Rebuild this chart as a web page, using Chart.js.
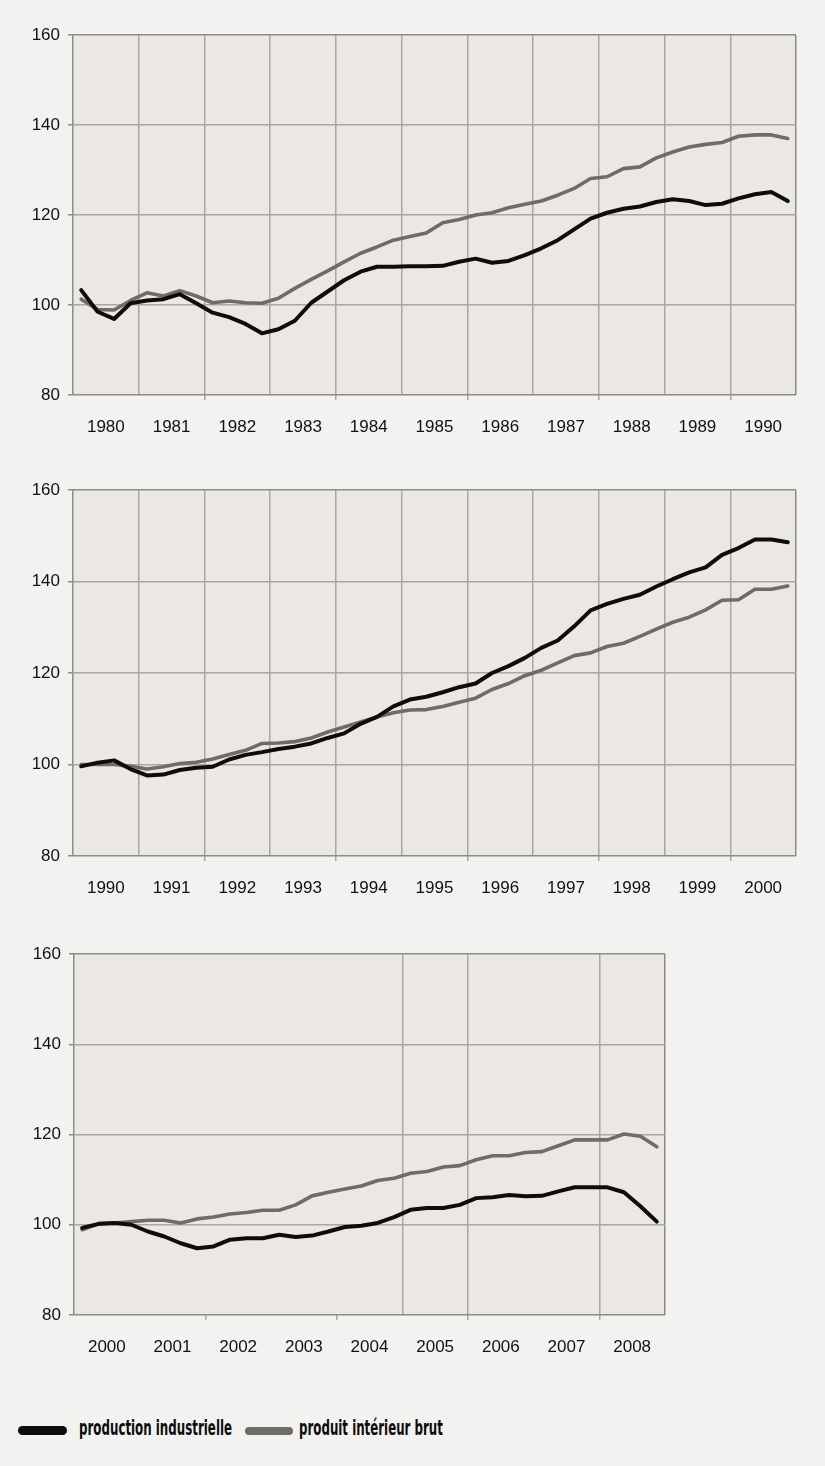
<!DOCTYPE html>
<html><head><meta charset="utf-8">
<script src="https://cdn.jsdelivr.net/npm/chart.js@4.4.1/dist/chart.umd.min.js"></script>
<style>
html,body{margin:0;padding:0;background:#f2f2f0;}
body{width:825px;height:1466px;position:relative;overflow:hidden;}
canvas{position:absolute;left:0;}
.sw{position:absolute;border-radius:5px;}
.lt{position:absolute;font-family:"Liberation Sans Narrow","DejaVu Sans Condensed","Arial Narrow",sans-serif;font-stretch:condensed;font-weight:bold;font-size:21px;line-height:21px;color:#0d0d0d;white-space:nowrap;transform-origin:0 0;}
</style></head><body>
<canvas id="c1" width="825" height="440" style="top:0"></canvas>
<canvas id="c2" width="825" height="446" style="top:455px"></canvas>
<canvas id="c3" width="825" height="441" style="top:919px"></canvas>
<div class="sw" style="left:18px;top:1426px;width:49px;height:9px;background:#0d0d0d"></div>
<div class="lt" id="l1" style="left:79px;top:1418px">production industrielle</div>
<div class="sw" style="left:245px;top:1426.5px;width:48px;height:8px;background:#6f6b67"></div>
<div class="lt" id="l2" style="left:299px;top:1418px">produit intérieur brut</div>
<script>
// ---- data (quarterly index values) ----
const years1 = ['1980','1981','1982','1983','1984','1985','1986','1987','1988','1989','1990'];
const prod1 = [103.3,98.5,96.9,100.4,101.0,101.3,102.4,100.4,98.3,97.3,
  95.8,93.7,94.6,96.5,100.5,103.0,105.5,107.4,108.5,108.5,
  108.6,108.6,108.7,109.6,110.3,109.4,109.8,111.1,112.6,114.4,
  116.8,119.2,120.5,121.4,121.9,122.9,123.5,123.1,122.2,122.5,
  123.7,124.6,125.1,123.1];
const pib1 = [101.3,99.0,98.9,101.0,102.7,102.0,103.2,102.0,100.5,100.9,
  100.5,100.4,101.5,103.7,105.7,107.6,109.6,111.5,112.9,114.4,
  115.2,116.0,118.3,119.0,120.0,120.5,121.6,122.4,123.1,124.4,
  125.9,128.1,128.5,130.3,130.7,132.7,134.0,135.1,135.7,136.1,
  137.5,137.8,137.8,137.0];

const years2 = ['1990','1991','1992','1993','1994','1995','1996','1997','1998','1999','2000'];
const prod2 = [99.6,100.4,100.9,99.0,97.6,97.8,98.8,99.3,99.5,101.1,
  102.1,102.7,103.4,103.9,104.6,105.8,106.8,108.9,110.4,112.7,
  114.2,114.8,115.8,116.9,117.7,120.0,121.5,123.3,125.5,127.1,
  130.2,133.7,135.1,136.2,137.1,138.9,140.5,142.0,143.1,145.8,
  147.3,149.2,149.2,148.6];
const pib2 = [100.0,100.0,100.0,99.6,99.0,99.5,100.2,100.5,101.2,102.2,
  103.1,104.6,104.7,105.0,105.8,107.1,108.2,109.3,110.4,111.3,
  111.9,112.0,112.7,113.6,114.5,116.4,117.7,119.4,120.6,122.2,
  123.8,124.4,125.8,126.5,128.0,129.6,131.1,132.2,133.8,135.9,
  136.0,138.3,138.3,139.0];

const years3 = ['2000','2001','2002','2003','2004','2005','2006','2007','2008'];
const prod3 = [99.3,100.2,100.4,100.0,98.5,97.4,95.9,94.8,95.2,96.7,
  97.0,97.0,97.8,97.3,97.6,98.5,99.5,99.8,100.4,101.7,
  103.3,103.7,103.7,104.4,105.9,106.1,106.6,106.3,106.4,107.4,
  108.3,108.3,108.3,107.2,104.1,100.7];
const pib3 = [98.9,100.2,100.4,100.7,101.0,101.0,100.4,101.3,101.7,102.4,
  102.7,103.2,103.2,104.4,106.4,107.2,107.9,108.6,109.8,110.3,
  111.4,111.8,112.8,113.1,114.4,115.3,115.3,116.0,116.2,117.5,
  118.8,118.8,118.8,120.1,119.6,117.3];

const yTicks = [80,100,120,140,160];
const seriesNames = ['production industrielle','produit intérieur brut'];

// ---- styling ----
const GRID = '#aaa6a2';
const EDGE = '#8f8b87';
const CLEAR = 'rgba(0,0,0,0)';
Chart.defaults.font.family = '"Liberation Sans", Arial, sans-serif';
Chart.defaults.font.size = 17;
Chart.defaults.color = '#111111';

const bgPlugin = {
  id: 'plotbg',
  beforeDraw(chart) {
    const {ctx, chartArea: a} = chart;
    ctx.save();
    ctx.fillStyle = '#ebe8e4';
    ctx.fillRect(a.left, a.top, a.right - a.left, a.bottom - a.top);
    ctx.restore();
  }
};

function makePanel(id, years, prod, pib, cfg) {
  const n = years.length * 4;
  const pts = arr => arr.map((v, i) => ({x: i + 0.5, y: v}));
  new Chart(document.getElementById(id), {
    type: 'line',
    data: { datasets: [
      { label: seriesNames[0], data: pts(prod), borderColor: '#0d0d0d', borderWidth: 4,
        pointRadius: 0, tension: 0, borderJoinStyle: 'round', borderCapStyle: 'round' },
      { label: seriesNames[1], data: pts(pib), borderColor: '#6f6b67', borderWidth: 3.6,
        pointRadius: 0, tension: 0, borderJoinStyle: 'round', borderCapStyle: 'round' }
    ]},
    options: {
      responsive: false, animation: false, events: [],
      layout: { padding: { top: 35, left: cfg.padLeft, right: cfg.padRight, bottom: 0 } },
      plugins: { legend: { display: false }, tooltip: { enabled: false } },
      scales: {
        x: {
          type: 'linear', min: 0, max: n,
          afterBuildTicks: s => { const t = []; for (let v = 0; v <= n; v += 2) t.push({value: v}); s.ticks = t; },
          afterFit: s => { s.height = 45; },
          grid: {
            color: c => (c.tick.value === 0 || c.tick.value === n) ? EDGE : (cfg.gridAt(c.tick.value) ? GRID : CLEAR),
            lineWidth: 1.5, tickLength: 5, drawTicks: true,
            tickColor: c => (c.tick.value % 8 === 0 && c.tick.value > 0 && c.tick.value < n) ? GRID : CLEAR
          },
          border: { display: false },
          ticks: { autoSkip: false, maxRotation: 0, minRotation: 0, padding: 17,
            callback: v => (v % 4 === 2) ? years[(v - 2) / 4] : '' }
        },
        y: {
          min: yTicks[0], max: yTicks[yTicks.length - 1],
          afterBuildTicks: s => { s.ticks = yTicks.map(v => ({value: v})); },
          afterFit: s => { s.width = 73; },
          grid: { color: c => (c.tick.value === yTicks[0] || c.tick.value === yTicks[yTicks.length-1]) ? EDGE : GRID,
                  lineWidth: 1.5, tickLength: 5, tickColor: EDGE },
          border: { display: false },
          ticks: { padding: 8 }
        }
      }
    },
    plugins: [bgPlugin]
  });
}

makePanel('c1', years1, prod1, pib1, { padLeft: 0, padRight: 29, gridAt: v => v % 4 === 0 });
makePanel('c2', years2, prod2, pib2, { padLeft: 0, padRight: 29, gridAt: v => v % 4 === 0 });
makePanel('c3', years3, prod3, pib3, { padLeft: 1, padRight: 160, gridAt: v => [20, 24, 32].includes(v) });

// fit legend text widths to reference
function fitLegend() {
  [['l1', 153], ['l2', 144]].forEach(([id, w]) => {
    const el = document.getElementById(id);
    el.style.transform = 'none';
    const k = w / el.getBoundingClientRect().width;
    el.style.transform = 'scaleX(' + k.toFixed(3) + ')';
  });
}
fitLegend();
if (document.fonts && document.fonts.ready) document.fonts.ready.then(fitLegend);
</script>
</body></html>
